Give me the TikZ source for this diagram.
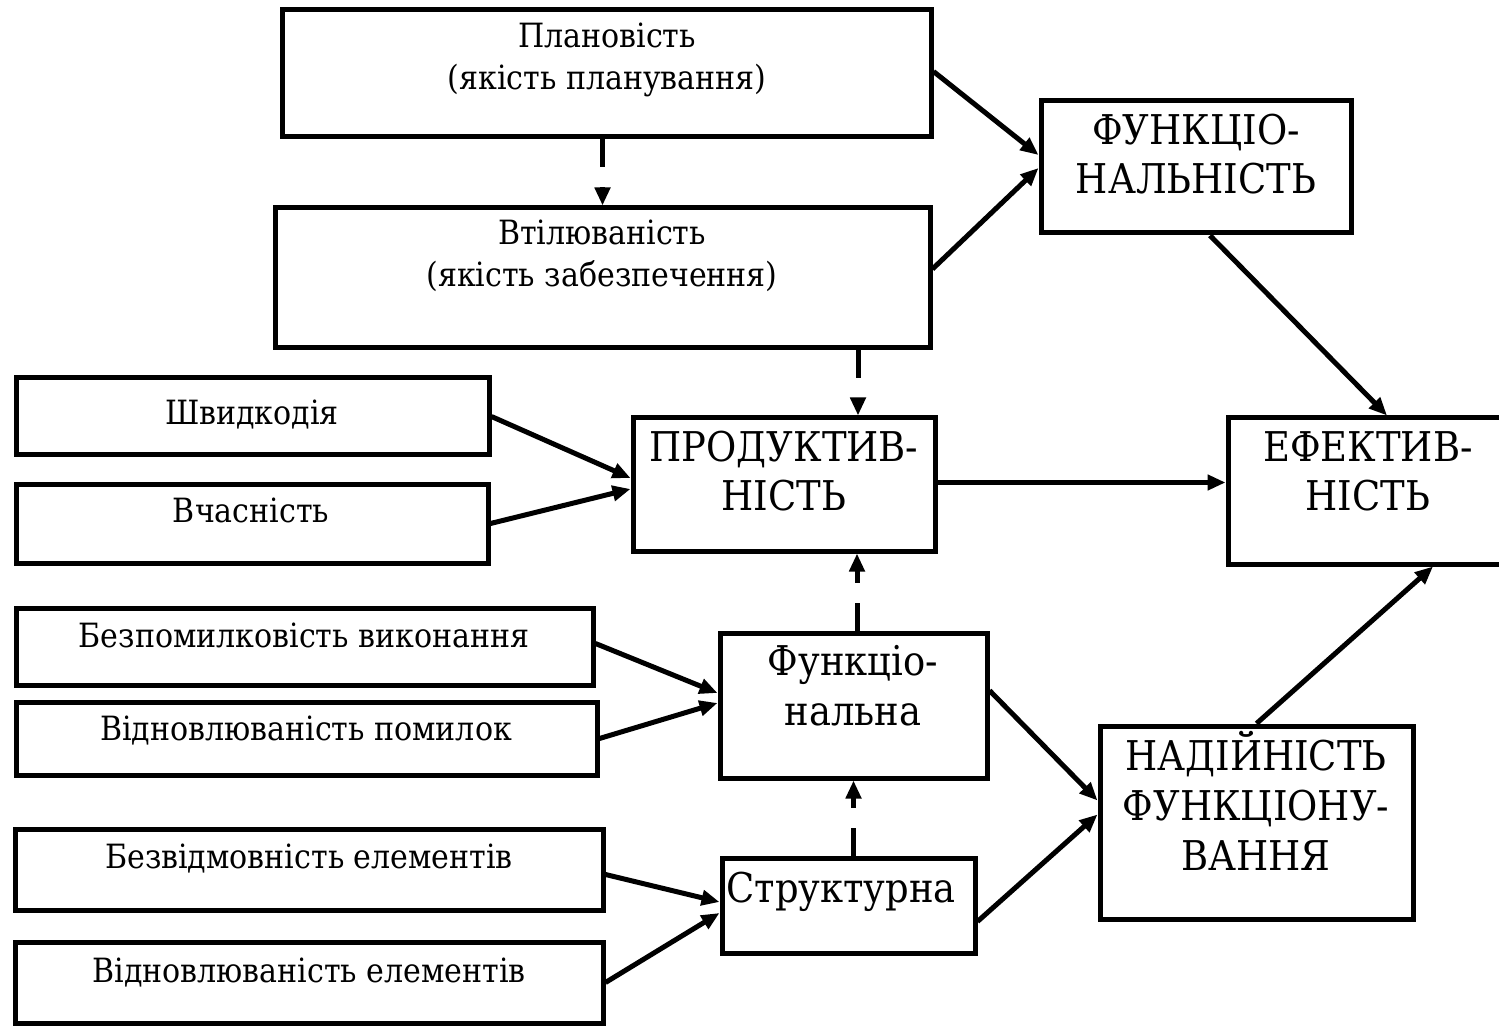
\documentclass[tikz,border=0pt]{standalone}
\usepackage{fontspec}
\setmainfont{DejaVu Serif Condensed}
\usetikzlibrary{arrows.meta,calc}
\newcommand\smalltxt{\fontsize{16.7}{21}\selectfont}
\newcommand\bigtxt{\fontsize{20.5}{24.5}\selectfont}
\newcommand\bigtxtwide{\fontsize{20.5}{25}\selectfont}
\newcommand\txtlines[1]{\begin{tabular}[t]{@{}c@{}}#1\end{tabular}}

\begin{document}
\begin{tikzpicture}[x=0.5pt,y=-0.5pt,
  box/.style={draw,line width=2.5pt,inner sep=0pt,rectangle},
  lbl/.style={inner sep=0pt,anchor=base,font=\smalltxt},
  biglbl/.style={inner sep=0pt,anchor=base,font=\bigtxt},
  widelbl/.style={inner sep=0pt,anchor=base,font=\bigtxtwide},
  conn/.style={line width=2.5pt,-{Triangle[length=9pt,width=7.5pt]}},
  dconn/.style={conn,dash pattern=on 14pt off 10pt}]

% page area
\path[fill=white,use as bounding box] (0,0) rectangle (1499,1026);

% upper boxes
\node[box,minimum width=324.5pt,minimum height=63.5pt] (plan) at (606.5,73.5) {};
\node[lbl] (plan-t) at (607,48) {\txtlines{Плановість\\(якість планування)}};

\node[box,minimum width=327.5pt,minimum height=70pt] (vtil) at (602.5,278) {};
\node[lbl] (vtil-t) at (602,245) {\txtlines{Втілюваність\\(якість забезпечення)}};

\node[box,minimum width=155pt,minimum height=66pt] (fn) at (1196,167) {};
\node[biglbl] (fn-t) at (1196,145) {\txtlines{ФУНКЦІО-\\НАЛЬНІСТЬ}};

% productivity group
\node[box,minimum width=236.5pt,minimum height=38.5pt] (shv) at (252.5,416.5) {};
\node[lbl] (shv-t) at (252,425) {Швидкодія};

\node[box,minimum width=236pt,minimum height=39.5pt] (vch) at (252,523.5) {};
\node[lbl] (vch-t) at (251,522) {Вчасність};

\node[box,minimum width=151pt,minimum height=66.5pt] (prod) at (784,484.5) {};
\node[biglbl] (prod-t) at (784,462) {\txtlines{ПРОДУКТИВ-\\НІСТЬ}};

\node[box,minimum width=141pt,minimum height=73pt] (efekt) at (1369,491) {};
\node[biglbl] (efekt-t) at (1368,462) {\txtlines{ЕФЕКТИВ-\\НІСТЬ}};

% reliability group
\node[box,minimum width=288.5pt,minimum height=38.5pt] (bezpom) at (304.5,646.5) {};
\node[lbl] (bezpom-t) at (304,647) {Безпомилковість виконання};

\node[box,minimum width=290.5pt,minimum height=36.5pt] (vidnpom) at (306.5,738.5) {};
\node[lbl] (vidnpom-t) at (306,740) {Відновлюваність помилок};

\node[box,minimum width=133.5pt,minimum height=72.5pt] (funkc) at (853.5,705.5) {};
\node[widelbl] (funkc-t) at (853,675) {\txtlines{Функціо-\\нальна}};

\node[box,minimum width=156.5pt,minimum height=96.5pt] (nadiyn) at (1256.5,822.5) {};
\node[widelbl] (nadiyn-t) at (1256,770) {\txtlines{НАДІЙНІСТЬ\\ФУНКЦІОНУ-\\ВАННЯ}};

\node[box,minimum width=294pt,minimum height=40.5pt] (bezvidm) at (309,869.5) {};
\node[lbl] (bezvidm-t) at (309,868) {Безвідмовність елементів};

\node[box,minimum width=126.5pt,minimum height=47.5pt] (strukt) at (848.5,905.5) {};
\node[biglbl,anchor=base west] (strukt-t) at (726,902) {Структурна};

\node[box,minimum width=294pt,minimum height=40.5pt] (vidnel) at (309,982.5) {};
\node[lbl] (vidnel-t) at (309,982) {Відновлюваність елементів};

% helper points for the vertical dashed links
\coordinate (prodin) at ($(prod.north)+(74,0)$);
\coordinate (prodout) at ($(prod.south)+(73,0)$);

% solid links
\draw[conn] ($(plan.east)+(0,-2)$) -- ($(fn.west)+(0,-12)$);
\draw[conn] ($(vtil.east)+(0,-9)$) -- ($(fn.west)+(0,1)$);
\draw[conn] ($(fn.south)+(14,0)$) -- ($(efekt.north)+(18,0)$);
\draw[conn] (shv.east) -- ($(prod.west)+(0,-6.5)$);
\draw[conn] (vch.east) -- ($(prod.west)+(0,4.5)$);
\draw[conn] ($(prod.east)+(0,-2)$) -- ($(prod.east -| efekt.west)+(0,-2)$);
\draw[conn] ($(bezpom.east)+(0,-3)$) -- ($(funkc.west)+(0,-12.5)$);
\draw[conn] (vidnpom.east) -- ($(funkc.west)+(0,-2.5)$);
\draw[conn] ($(bezvidm.east)+(0,5)$) -- ($(strukt.west)+(0,-3.5)$);
\draw[conn] (vidnel.east) -- ($(strukt.west)+(0,7.5)$);
\draw[conn] ($(funkc.east)+(0,-15)$) -- ($(nadiyn.west)+(0,-22)$);
\draw[conn] ($(strukt.east)+(0,16)$) -- ($(nadiyn.west)+(0,-8)$);
\draw[conn] (nadiyn.north) -- ($(efekt.south)+(64,0)$);

% dashed links
\draw[dconn] (vtil.north |- plan.south) -- (vtil.north);
\draw[dconn] (prodin |- vtil.south) -- (prodin);
\draw[dconn] (prodout |- funkc.north) -- (prodout);
\draw[dconn] (funkc.south |- strukt.north) -- (funkc.south);
\end{tikzpicture}
\end{document}
